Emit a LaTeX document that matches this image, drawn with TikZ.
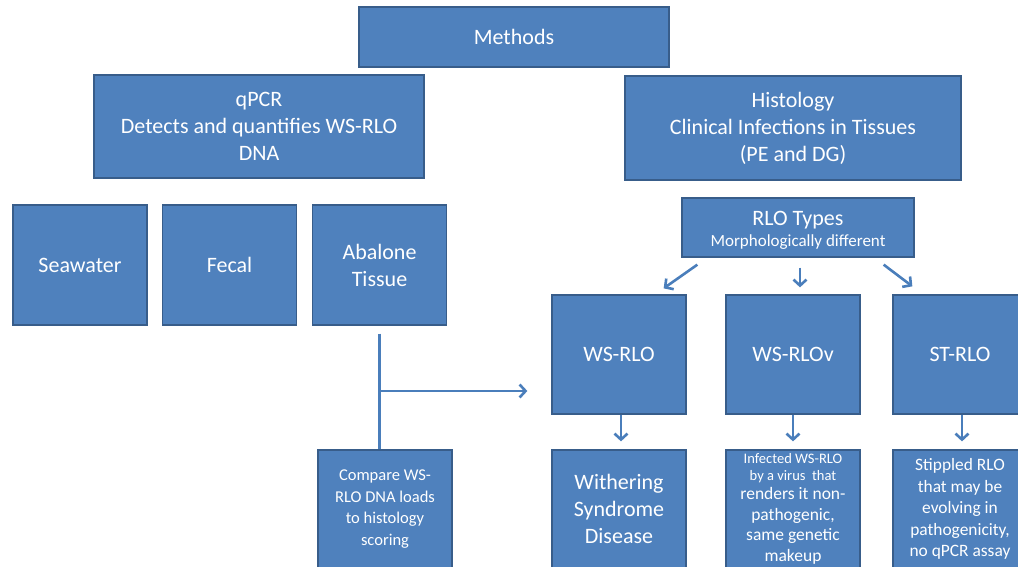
\documentclass[tikz,border=0pt]{standalone}
\usepackage{fontspec}
\setmainfont{Carlito}
\usepackage{tikz}
\usetikzlibrary{calc, arrows.meta}
\definecolor{boxFill}{HTML}{4F81BD}
\definecolor{boxBorder}{HTML}{385D8A}
\definecolor{linkColor}{HTML}{4A7EBB}

\begin{document}
\begin{tikzpicture}[x=1pt, y=-1pt,
    box/.style={draw=boxBorder, fill=boxFill, line width=1.3pt, text=white,
        align=center, inner sep=0pt, font=\fontsize{22}{27}\selectfont},
    smallbox/.style={box, minimum width=134pt, minimum height=119pt},
    link/.style={linkColor, line width=2.6pt},
    arrow/.style={link, -{Straight Barb[length=6pt, width=13pt]}}]
    \useasboundingbox (0, 0) rectangle (1018, 566);
    \clip (0, 0) rectangle (1018, 566);

    % top level
    \node[box, minimum width=310pt, minimum height=60pt] (methods) at (514, 37) {Methods};
    \node[box, minimum width=330pt, minimum height=103pt] (qpcr) at (259, 126.5)
        {qPCR\\Detects and quantifies WS-RLO\\DNA};
    \node[box, minimum width=336pt, minimum height=104pt] (histo) at (793, 128)
        {Histology\\Clinical Infections in Tissues\\(PE and DG)};

    % qPCR samples
    \node[smallbox, minimum height=120pt] (seawater) at (80, 265) {Seawater};
    \node[smallbox, minimum height=120pt] (fecal) at (229.5, 265) {Fecal};
    \node[smallbox, minimum height=120pt] (abalone) at (379.5, 265) {Abalone\\Tissue};
    \node[smallbox, minimum height=118pt, font=\fontsize{16.5}{21.5}\selectfont] (compare) at (385, 509)
        {Compare WS-\\RLO DNA loads\\to histology\\scoring};

    % histology types
    \node[box, minimum width=232pt, minimum height=59pt] (rlotypes) at (798, 227.5)
        {\rule{0pt}{20pt}RLO Types\\[-6pt]{\fontsize{17}{20}\selectfont Morphologically different}};
    \node[smallbox] (wsrlo) at (619, 354.5) {WS-RLO};
    \node[smallbox] (wsrlov) at (793, 354.5) {WS-RLOv};
    \node[smallbox] (strlo) at (960, 354.5) {ST-RLO};

    \node[smallbox, minimum height=118pt] (wsd) at (619, 509) {Withering\\Syndrome\\Disease};
    \node[smallbox, minimum height=118pt, font=\fontsize{17.5}{20.5}\selectfont] (infected) at (793, 509)
        {{\fontsize{14.5}{17}\selectfont Infected WS-RLO}\\[-3.5pt]
         {\fontsize{14.5}{17}\selectfont by a virus\ \ that}\\[-1.5pt]
         renders it non-\\pathogenic,\\same genetic\\makeup};
    \node[smallbox, minimum height=118pt, font=\fontsize{17.4}{21.5}\selectfont] (stippled) at (960, 509)
        {Stippled RLO\\that may be\\evolving in\\pathogenicity,\\no qPCR assay};

    % connectors
    \coordinate (branch) at (379.5, 391);
    \draw[link, shorten <=8pt] (abalone.south) -- (compare.north -| abalone.south);
    \draw[arrow, shorten >=24pt] (branch) -- (wsrlo.west |- branch);

    \draw[arrow] ($(rlotypes.south west)+(16,7)$) -- ($(wsrlo.north east)+(-23,-6)$);
    \draw[arrow] ($(rlotypes.south)+(2,10)$) -- ($(wsrlov.north)+(7,-7)$);
    \draw[arrow] ($(rlotypes.south east)+(-31,7)$) -- ($(strlo.north west)+(20,-8)$);

    \draw[arrow, shorten >=8pt] ([xshift=2pt]wsrlo.south) -- ([xshift=2pt]wsd.north);
    \draw[arrow, shorten >=8pt] (wsrlov.south) -- (infected.north);
    \draw[arrow, shorten >=8pt] ([xshift=2pt]strlo.south) -- ([xshift=2pt]stippled.north);
\end{tikzpicture}
\end{document}
